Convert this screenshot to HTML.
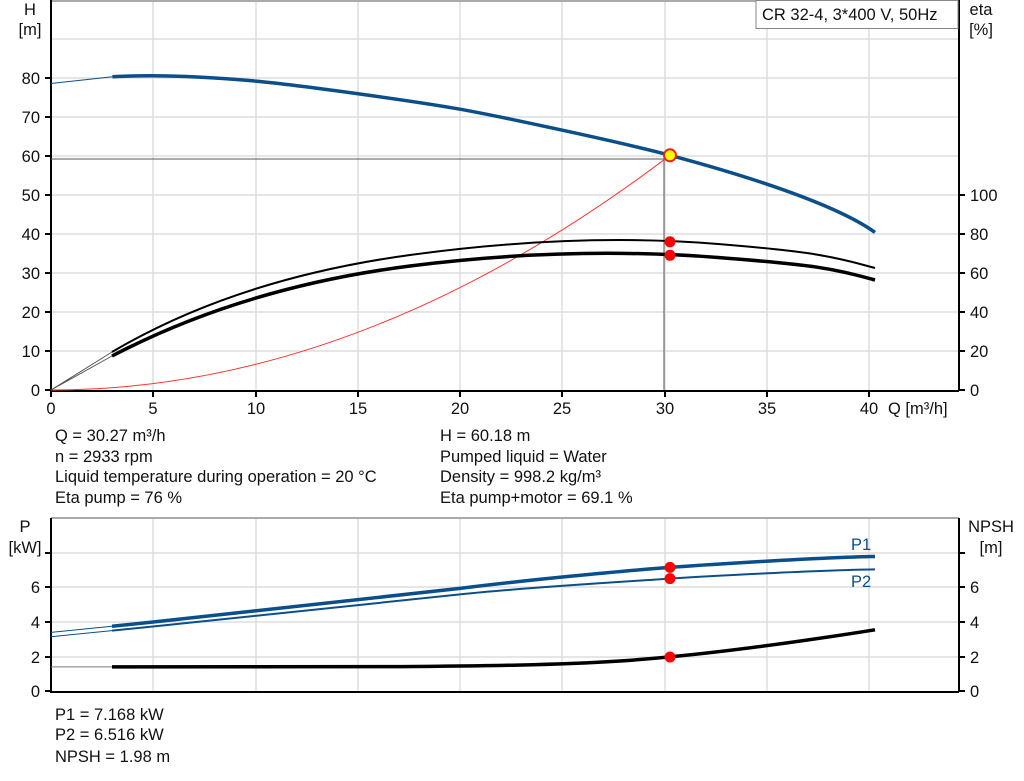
<!DOCTYPE html>
<html><head><meta charset="utf-8"><style>
body{margin:0;background:#fff}
svg{display:block}
text{font-family:"Liberation Sans",sans-serif;font-size:16.5px;fill:#111}
</style></head><body>
<svg width="1024" height="781" viewBox="0 0 1024 781">
<g stroke="#ddd" stroke-width="1.5">
<path d="M153 0V390M256 0V390M358 0V390M460 0V390M562 0V390M665 0V390M767 0V390M869 0V390"/>
<path d="M51 0H959M51 39H959M51 78H959M51 117H959M51 156H959M51 195H959M51 234H959M51 273H959M51 312H959M51 351H959"/>
</g>
<path d="M51 1H959" stroke="#aaa" stroke-width="2"/>
<g stroke="#000" stroke-width="2" fill="none">
<path d="M51 0V391H959M959 0V391"/>
<path d="M45 390H51M45 351H51M45 312H51M45 273H51M45 234H51M45 195H51M45 156H51M45 117H51M45 78H51"/>
<path d="M959 390H965M959 351H965M959 312H965M959 273H965M959 234H965M959 195H965"/>
<path d="M51 390V397M153 390V397M256 390V397M358 390V397M460 390V397M562 390V397M665 390V397M767 390V397M869 390V397"/>
</g>
<g text-anchor="end">
<text x="40" y="396">0</text><text x="40" y="357">10</text><text x="40" y="318">20</text><text x="40" y="279">30</text><text x="40" y="240">40</text><text x="40" y="201">50</text><text x="40" y="162">60</text><text x="40" y="123">70</text><text x="40" y="84">80</text>
</g>
<text x="30" y="15" text-anchor="middle">H</text><text x="30" y="35" text-anchor="middle">[m]</text>
<text x="981" y="15" text-anchor="middle">eta</text><text x="981" y="35" text-anchor="middle">[%]</text>
<g>
<text x="970" y="396">0</text><text x="970" y="357">20</text><text x="970" y="318">40</text><text x="970" y="279">60</text><text x="970" y="240">80</text><text x="970" y="201">100</text>
</g>
<g text-anchor="middle">
<text x="51" y="414">0</text><text x="153" y="414">5</text><text x="256" y="414">10</text><text x="358" y="414">15</text><text x="460" y="414">20</text><text x="562" y="414">25</text><text x="665" y="414">30</text><text x="767" y="414">35</text><text x="869" y="414">40</text>
</g>
<text x="888" y="414">Q [m³/h]</text>
<rect x="756" y="0.5" width="202" height="28" fill="#fff" stroke="#888"/>
<text x="762" y="20">CR 32-4, 3*400 V, 50Hz</text>
<path d="M51 159H670M664 159V390" stroke="#555" stroke-width="1" fill="none"/>
<path d="M51 390Q360.5 390 670 155.3" stroke="#f33" stroke-width="1" fill="none"/>
<path d="M51 83.5L112.4 76.8" stroke="#0b4f8a" stroke-width="1" fill="none"/>
<path d="M112.4 76.8C160 74 210 77 255.5 81.1S420 102 460 109.2S620 142 670 155.3S830 200 875 232.4" stroke="#0b4f8a" stroke-width="3.5" fill="none" stroke-linejoin="round"/>
<path d="M51 390L112 352M51 390L112 356" stroke="#555" stroke-width="1" fill="none"/>
<path d="M112 352C200 300 300 270 410 255S620 236 718 244S830 256 875 268" stroke="#000" stroke-width="2" fill="none"/>
<path d="M112 356C200 310 300 280 410 266S620 250 718 257.5S830 268 875 280" stroke="#000" stroke-width="3.5" fill="none"/>
<circle cx="670" cy="241.8" r="5.5" fill="#f00"/>
<circle cx="670" cy="255.3" r="5.5" fill="#f00"/>
<circle cx="670" cy="155.3" r="6" fill="#ff0" stroke="#e22" stroke-width="2"/>
<text x="55" y="441">Q = 30.27 m³/h</text>
<text x="55" y="462">n = 2933 rpm</text>
<text x="55" y="482">Liquid temperature during operation = 20 °C</text>
<text x="55" y="503">Eta pump = 76 %</text>
<text x="440" y="441">H = 60.18 m</text>
<text x="440" y="462">Pumped liquid = Water</text>
<text x="440" y="482">Density = 998.2 kg/m³</text>
<text x="440" y="503">Eta pump+motor = 69.1 %</text>
<g stroke="#ddd" stroke-width="1.5">
<path d="M153 518V691M256 518V691M358 518V691M460 518V691M562 518V691M665 518V691M767 518V691M869 518V691"/>
<path d="M51 553H959M51 587H959M51 622H959M51 657H959"/>
</g>
<path d="M51 518H959" stroke="#aaa" stroke-width="2"/>
<g stroke="#000" stroke-width="2" fill="none">
<path d="M51 518V692H959M959 518V692"/>
<path d="M45 691H51M45 657H51M45 622H51M45 587H51M45 553H51"/>
<path d="M959 691H965M959 657H965M959 622H965M959 587H965M959 553H965"/>
</g>
<g text-anchor="end"><text x="40" y="697">0</text><text x="40" y="663">2</text><text x="40" y="628">4</text><text x="40" y="593">6</text></g>
<g><text x="970" y="697">0</text><text x="970" y="663">2</text><text x="970" y="628">4</text><text x="970" y="593">6</text></g>
<text x="25" y="532" text-anchor="middle">P</text><text x="25" y="553" text-anchor="middle">[kW]</text>
<text x="991" y="532" text-anchor="middle">NPSH</text><text x="991" y="553" text-anchor="middle">[m]</text>
<path d="M51 632.4L112 626.3M51 636.7L112 630.6" stroke="#0b4f8a" stroke-width="1" fill="none"/>
<path d="M112 626.3C250 612 400 596 460 588.4S620 571 670 567.4S830 557 875 556.5" stroke="#0b4f8a" stroke-width="3.5" fill="none"/>
<path d="M112 630.6C250 617 400 601 460 594.4S620 582 670 578.6S830 570 875 569.4" stroke="#0b4f8a" stroke-width="2" fill="none"/>
<path d="M51 666.9H112" stroke="#777" stroke-width="1"/>
<path d="M112 666.9L400 666.6C480 666 560 665 620 661S760 648 875 629.8" stroke="#000" stroke-width="3.5" fill="none"/>
<circle cx="670" cy="567.4" r="5.5" fill="#f00"/>
<circle cx="670" cy="578.6" r="5.5" fill="#f00"/>
<circle cx="670" cy="657" r="5.5" fill="#f00"/>
<text x="851" y="550" style="fill:#0b4f8a">P1</text>
<text x="851" y="587" style="fill:#0b4f8a">P2</text>
<text x="55" y="720">P1 = 7.168 kW</text>
<text x="55" y="740">P2 = 6.516 kW</text>
<text x="55" y="762">NPSH = 1.98 m</text>
</svg>
</body></html>
